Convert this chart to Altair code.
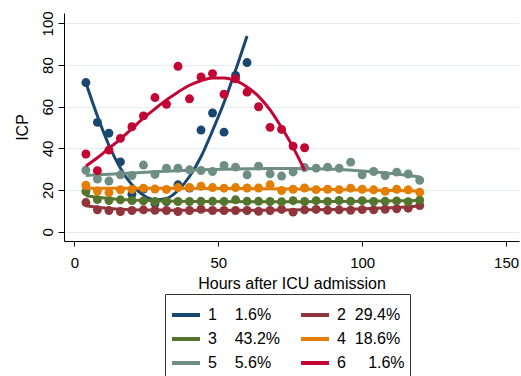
import altair as alt
import pandas as pd

# ---- data ----
groups = ["1", "2", "3", "4", "5", "6"]
shares = ["1.6%", "29.4%", "43.2%", "18.6%", "5.6%", "1.6%"]
colors = ["#1a476f", "#90353b", "#55752f", "#e37e00", "#6e8e84", "#c10534"]

hours_all = [4, 8, 12, 16, 20, 24, 28, 32, 36, 40, 44, 48, 52, 56, 60,
             64, 68, 72, 76, 80, 84, 88, 92, 96, 100, 104, 108, 112, 116, 120]
hours_g1 = [4, 8, 12, 16, 20, 24, 28, 32, 36, 40, 44, 48, 52, 56, 60]
hours_g6 = [4, 8, 12, 16, 20, 24, 28, 32, 36, 40, 44, 48, 52, 56, 60,
            64, 68, 72, 76, 80]

# observed group means (points)
obs_g1 = [71.6, 52.5, 47.3, 33.5, 18.0, 20.5, 13.5, 14.5, 22.5, 21.0, 48.8, 57.0, 47.8, 75.0, 81.2]
obs_g2 = [14.0, 10.5, 10.2, 9.7, 10.2, 10.5, 10.3, 10.2, 9.7, 10.2, 10.8, 10.2, 10.2, 10.2, 10.2,
          9.8, 10.2, 10.7, 9.4, 10.5, 10.7, 10.3, 10.5, 10.3, 10.6, 10.5, 10.8, 11.0, 11.3, 12.6]
obs_g3 = [19.3, 15.4, 15.0, 15.3, 15.0, 14.8, 14.5, 14.6, 14.5, 14.5, 14.6, 14.6, 14.5, 15.3, 14.6,
          14.6, 14.5, 14.4, 14.9, 14.5, 14.9, 14.5, 15.0, 14.6, 14.9, 14.5, 14.6, 14.8, 14.4, 15.2]
obs_g4 = [22.3, 19.5, 18.8, 20.1, 20.3, 20.9, 20.5, 20.3, 21.2, 21.2, 21.8, 21.2, 20.9, 21.2, 21.0,
          21.0, 22.5, 19.8, 20.4, 21.0, 20.2, 20.4, 20.2, 20.9, 20.4, 20.1, 19.4, 20.4, 20.1, 19.0]
obs_g5 = [29.5, 25.3, 24.3, 27.3, 27.0, 32.0, 27.5, 30.5, 30.5, 29.7, 29.4, 28.9, 31.8, 31.0, 27.3,
          31.5, 27.8, 26.7, 28.7, 30.8, 30.5, 31.0, 30.5, 33.4, 27.3, 28.9, 27.0, 28.6, 27.7, 24.7]
obs_g6 = [37.3, 29.3, 39.2, 44.8, 50.4, 55.6, 64.4, 61.2, 79.4, 63.8, 74.3, 75.9, 66.0, 73.4, 67.0,
          60.0, 50.1, 49.1, 41.1, 40.3]

# fitted trajectories (lines)
fit_x_g1 = hours_g1
fit_y_g1 = [71.5, 55.5, 41.5, 30.5, 22.5, 17.5, 15.3, 16.0, 19.8, 26.5, 36.0, 48.5, 62.0, 77.5, 94.0]
fit_x_g2 = [4, 12, 20, 30, 40, 60, 80, 100, 112, 120]
fit_y_g2 = [12.5, 11.2, 10.6, 10.4, 10.3, 10.3, 10.5, 11.0, 11.6, 12.3]
fit_x_g3 = [4, 12, 20, 30, 45, 60, 80, 100, 120]
fit_y_g3 = [17.3, 16.0, 15.2, 14.8, 14.5, 14.4, 14.4, 14.6, 15.0]
fit_x_g4 = [4, 30, 60, 90, 120]
fit_y_g4 = [20.9, 20.9, 20.7, 20.3, 19.6]
fit_x_g5 = [4, 12, 20, 28, 36, 44, 52, 60, 68, 76, 84, 92, 100, 108, 116, 120]
fit_y_g5 = [27.0, 27.6, 28.2, 28.8, 29.3, 29.7, 30.0, 30.2, 30.3, 30.3, 30.2, 29.9, 29.2, 28.3, 27.0, 26.3]
fit_x_g6 = hours_g6
fit_y_g6 = [31.5, 35.5, 40.0, 44.5, 49.5, 54.5, 59.0, 63.3, 67.0, 70.3, 72.5, 73.8, 73.8, 72.5, 69.5,
            65.0, 58.5, 50.0, 40.5, 29.5]

gaps = [4, 2, 4, 2, 4, 5]  # legend spacing between group number and share
NB = "\u00a0"
labels = [g + NB * n + s for g, n, s in zip(groups, gaps, shares)]

obs = [(hours_g1, obs_g1), (hours_all, obs_g2), (hours_all, obs_g3),
       (hours_all, obs_g4), (hours_all, obs_g5), (hours_g6, obs_g6)]
fits = [(fit_x_g1, fit_y_g1), (fit_x_g2, fit_y_g2), (fit_x_g3, fit_y_g3),
        (fit_x_g4, fit_y_g4), (fit_x_g5, fit_y_g5), (fit_x_g6, fit_y_g6)]

FONT = "Liberation Sans"

x_enc = alt.X("hours:Q",
              scale=alt.Scale(domain=[-3.61, 154.5], nice=False, zero=False),
              axis=alt.Axis(values=[0, 50, 100, 150], title="Hours after ICU admission",
                            grid=False, tickSize=5, labelPadding=9, titlePadding=5,
                            labelFontSize=15, titleFontSize=16, labelFont=FONT, titleFont=FONT,
                            labelColor="#000", titleColor="#000", domainColor="#000",
                            tickColor="#000", titleFontWeight="normal"))
y_enc = alt.Y("icp:Q",
              scale=alt.Scale(domain=[-4.46, 105], nice=False, zero=False),
              axis=alt.Axis(values=[0, 20, 40, 60, 80, 100], title="ICP",
                            grid=True, gridColor="#e4edf0", gridWidth=1,
                            tickSize=6, labelAngle=270, labelAlign="center",
                            labelBaseline="bottom", labelPadding=3, titlePadding=10,
                            labelFontSize=15, titleFontSize=16, labelFont=FONT, titleFont=FONT,
                            labelColor="#000", titleColor="#000", domainColor="#000",
                            tickColor="#000", titleFontWeight="normal"))

color_scale = alt.Scale(domain=labels, range=colors)
legend = alt.Legend(title=None, orient="none", direction="horizontal",
                    legendX=101, legendY=281, columns=2,
                    symbolType="stroke", symbolStrokeWidth=4, symbolSize=784,
                    labelFontSize=16, labelFont=FONT, labelColor="#000",
                    strokeColor="#333", fillColor="white", padding=5,
                    columnPadding=12, rowPadding=0, labelOffset=6, cornerRadius=0)

layers = []
for lab, col, (ox, oy), (fx, fy) in zip(labels, colors, obs, fits):
    pdf = pd.DataFrame({"hours": ox, "icp": oy})
    ldf = pd.DataFrame({"hours": fx, "icp": fy, "grp": lab})
    pts = alt.Chart(pdf).mark_circle(size=80, opacity=1).encode(
        x=x_enc, y=y_enc, fill=alt.value(col))
    ln = alt.Chart(ldf).mark_line(strokeWidth=3, interpolate="monotone").encode(
        x=x_enc, y=y_enc,
        color=alt.Color("grp:N", scale=color_scale, legend=legend))
    layers += [pts, ln]

chart = alt.layer(*layers).properties(
    width=455, height=228,
    padding={"left": 64, "top": 13, "right": 2, "bottom": 135},
    autosize=alt.AutoSizeParams(type="none"),
    background="white",
).configure_view(stroke=None)

chart.save("out.html", embed_options={"renderer": "svg", "actions": False})
